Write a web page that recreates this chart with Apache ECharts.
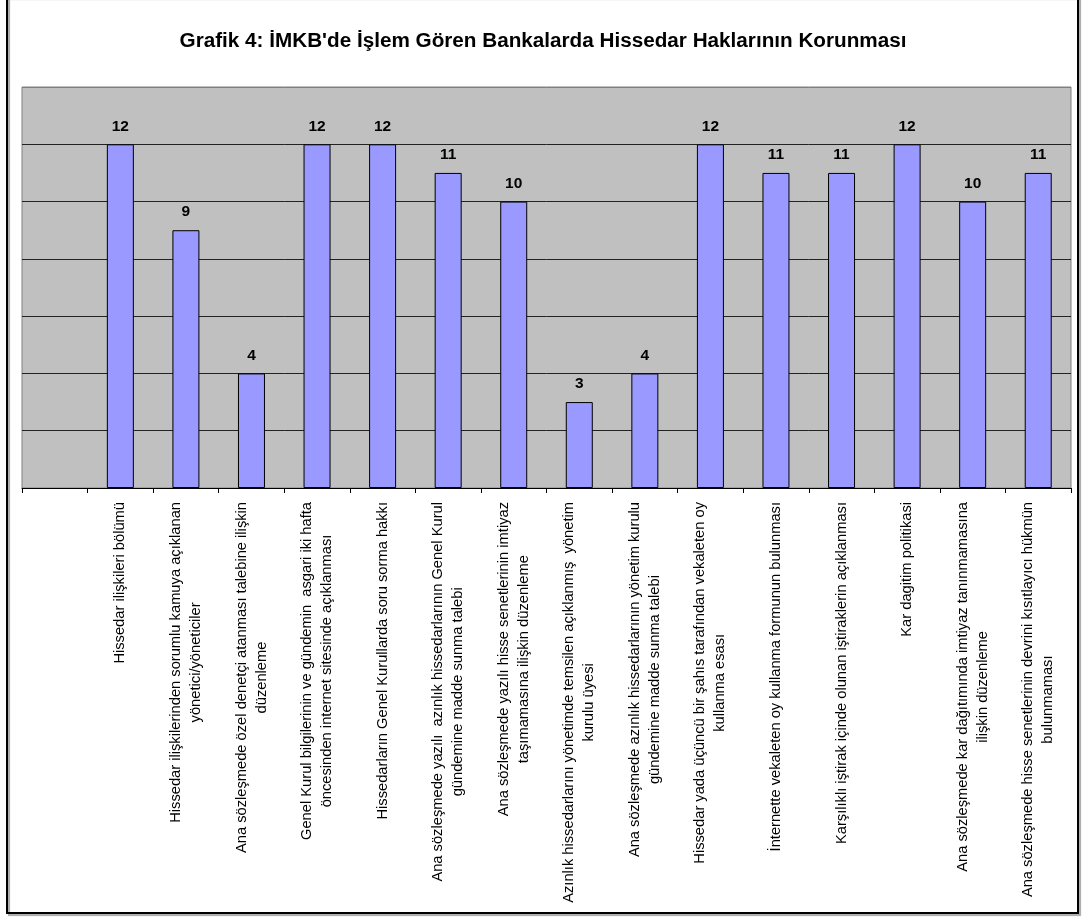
<!DOCTYPE html>
<html>
<head>
<meta charset="utf-8">
<script src="https://cdn.jsdelivr.net/npm/echarts@6/dist/echarts.min.js"></script>
<style>
html,body{margin:0;padding:0;background:#fff;}
#chart{width:1086px;height:918px;}
</style>
</head>
<body>
<div id="chart"></div>
<script>
const titleText = "Grafik 4: İMKB'de İşlem Gören Bankalarda Hissedar Haklarının Korunması";
const categories = [
  "",
  "Hissedar ilişkileri bölümü",
  "Hissedar ilişkilerinden sorumlu kamuya açıklanan\nyönetici/yöneticiler",
  "Ana sözleşmede özel denetçi atanması talebine ilişkin\ndüzenleme",
  "Genel Kurul bilgilerinin ve gündemin  asgari iki hafta\nöncesinden internet sitesinde açıklanması",
  "Hissedarların Genel Kurullarda soru sorma hakkı",
  "Ana sözleşmede yazılı  azınlık hissedarlarının Genel Kurul\ngündemine madde sunma talebi",
  "Ana sözleşmede yazılı hisse senetlerinin imtiyaz\ntaşımamasına ilişkin düzenleme",
  "Azınlık hissedarlarını yönetimde temsilen açıklanmış  yönetim\nkurulu üyesi",
  "Ana sözleşmede azınlık hissedarlarının yönetim kurulu\ngündemine madde sunma talebi",
  "Hissedar yada üçüncü bir şahıs tarafından vekaleten oy\nkullanma esası",
  "İnternette vekaleten oy kullanma formunun bulunması",
  "Karşılıklı iştirak içinde olunan iştiraklerin açıklanması",
  "Kar dagitim politikasi",
  "Ana sözleşmede kar dağıtımında imtiyaz tanınmamasına\nilişkin düzenleme",
  "Ana sözleşmede hisse senetlerinin devrini kısıtlayıcı hükmün\nbulunmaması"
];
const values = ['-', 12, 9, 4, 12, 12, 11, 10, 3, 4, 12, 11, 11, 12, 10, 11];
const yMin = 0, yMax = 14, yInterval = 2;

const FONT = "'Liberation Sans', Arial, sans-serif";
const LBL = 14.7;
const chart = echarts.init(document.getElementById('chart'), null, {renderer: 'canvas'});
chart.setOption({
  animation: false,
  backgroundColor: '#ffffff',
  title: {
    text: titleText,
    left: 'center',
    top: 26,
    textStyle: {fontFamily: FONT, fontSize: 20.7, fontWeight: 'bold', color: '#000'}
  },
  graphic: [{
    type: 'rect',
    z: -10,
    shape: {x: 7, y: -3, width: 1071, height: 916},
    style: {fill: 'none', stroke: '#000', lineWidth: 2,
            shadowColor: 'rgba(0,0,0,0.35)', shadowOffsetX: 2, shadowOffsetY: 2, shadowBlur: 1}
  }],
  grid: {
    left: 22, right: 15, top: 87, bottom: 430,
    show: true, backgroundColor: '#C0C0C0', borderColor: '#808080', borderWidth: 1
  },
  xAxis: {
    type: 'category',
    data: categories,
    boundaryGap: true,
    axisLine: {show: true, lineStyle: {color: '#000', width: 1}},
    axisTick: {show: true, length: 5, lineStyle: {color: '#000'}},
    axisLabel: {
      interval: 0,
      rotate: 90,
      margin: 14,
      color: '#000',
      fontFamily: FONT,
      fontSize: LBL,
      lineHeight: 20,
      formatter: function (v) {
        if (!v) return '';
        return v.split('\n').map(l => '{c|' + l + '}').join('\n');
      },
      rich: {c: {align: 'center', fontFamily: FONT, fontSize: LBL, lineHeight: 20, color: '#000'}}
    }
  },
  yAxis: {
    type: 'value',
    min: yMin, max: yMax, interval: yInterval,
    axisLine: {show: false},
    axisTick: {show: false},
    axisLabel: {show: false},
    splitLine: {show: true, lineStyle: {color: ['#000','#222','#222','#222','#222','#222','#222','#808080'], width: 1}}
  },
  series: [{
    type: 'bar',
    data: values,
    barWidth: 27,
    itemStyle: {color: '#9999FF', borderColor: '#000', borderWidth: 1},
    label: {
      show: true, position: 'top', distance: 10,
      fontFamily: FONT, fontSize: 15.5, fontWeight: 'bold', color: '#000'
    }
  }]
});
</script>
</body>
</html>
